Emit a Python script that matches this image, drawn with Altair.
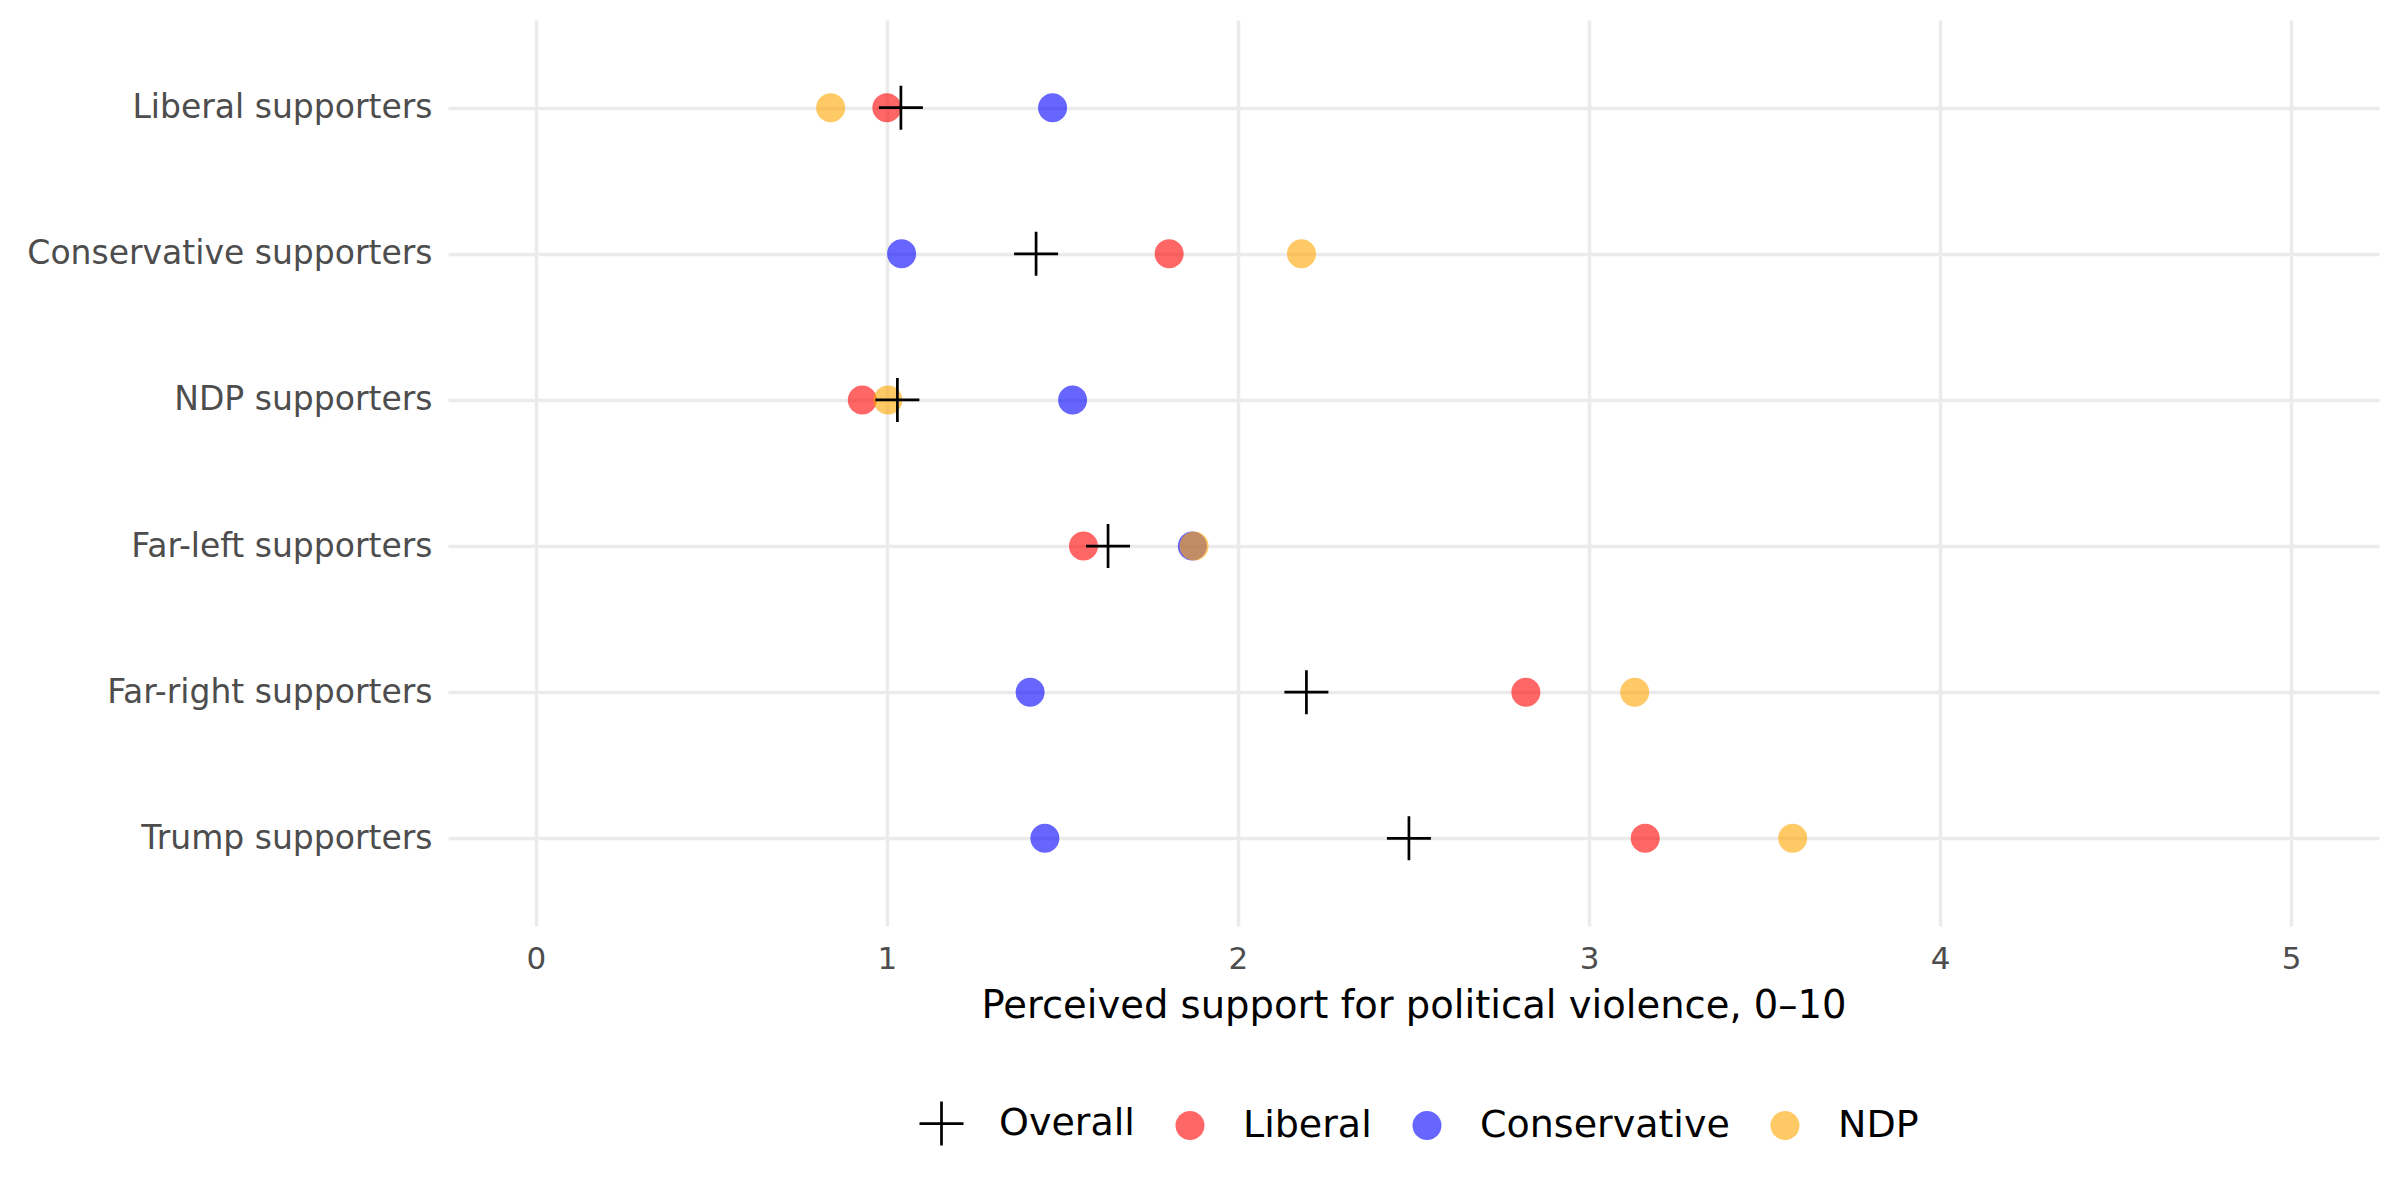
import altair as alt
import pandas as pd

# groups shown on the y axis, top to bottom
groups = ["Liberal supporters", "Conservative supporters", "NDP supporters",
          "Far-left supporters", "Far-right supporters", "Trump supporters"]

# perceived support by respondent party
overall = [1.04, 1.425, 1.03, 1.63, 2.195, 2.487]
liberal = [1.00, 1.804, 0.93, 1.56, 2.82, 3.16]
conservative = [1.472, 1.042, 1.529, 1.87, 1.408, 1.45]
ndp = [0.84, 2.181, 1.003, 1.875, 3.13, 3.58]

parties = ["Overall", "Liberal", "Conservative", "NDP"]
party_colors = ["#000000", "#FF0000", "#0000FF", "#FFA500"]
plus = "M-1,0L1,0M0,-1L0,1"

# long table; drawing order = row order, so Overall goes last (on top)
rows = []
for name, vals in [("Liberal", liberal), ("Conservative", conservative),
                   ("NDP", ndp), ("Overall", overall)]:
    for g, v in zip(groups, vals):
        rows.append({"group": g, "party": name, "value": v})
df = pd.DataFrame(rows)

FONT = "DejaVu Sans"


def party_scale(values):
    return alt.Scale(type="ordinal", domain=parties, range=values)


chart = alt.Chart(df).mark_point(filled=True).encode(
    x=alt.X("value:Q",
            scale=alt.Scale(domain=[-0.25, 5.25], nice=False, zero=False),
            axis=alt.Axis(values=[0, 1, 2, 3, 4, 5], format="d",
                          title="Perceived support for political violence, 0–10")),
    y=alt.Y("group:N", sort=groups,
            scale=alt.Scale(type="point", padding=0.6, domain=groups),
            axis=alt.Axis(title=None)),
    color=alt.Color("party:N", scale=party_scale(party_colors),
                    legend=alt.Legend(title=None, orient="none", direction="horizontal",
                                      legendX=470, legendY=1080,
                                      labelFontSize=38, labelColor="#000000",
                                      labelFont=FONT, labelOffset=34,
                                      labelLimit=0, columnPadding=36)),
    stroke=alt.Stroke("party:N", scale=party_scale(party_colors), legend=None),
    shape=alt.Shape("party:N",
                    scale=party_scale([plus, "circle", "circle", "circle"])),
    size=alt.Size("party:N", scale=party_scale([1936, 841, 841, 841])),
    opacity=alt.Opacity("party:N", scale=party_scale([1, 0.6, 0.6, 0.6])),
    strokeWidth=alt.StrokeWidth("party:N", scale=party_scale([2.7, 0, 0, 0])),
).properties(
    width=1931,
    height=906,
    autosize=alt.AutoSizeParams(type="none"),
    padding={"left": 440, "top": 12, "right": 10, "bottom": 250},
).configure_view(
    stroke=None
).configure_axis(
    domain=False,
    ticks=False,
    grid=True,
    gridColor="#EBEBEB",
    gridWidth=3.5,
    labelFont=FONT,
    labelColor="#4D4D4D",
    labelLimit=0,
    titleFont=FONT,
    titleColor="#000000",
    titleFontWeight="normal",
).configure_axisX(
    labelFontSize=31,
    labelPadding=18,
    titleFontSize=38.5,
    titlePadding=13,
).configure_axisY(
    labelFontSize=33,
    labelPadding=16,
)

chart.save("out.html", embed_options={"renderer": "svg", "actions": False})
